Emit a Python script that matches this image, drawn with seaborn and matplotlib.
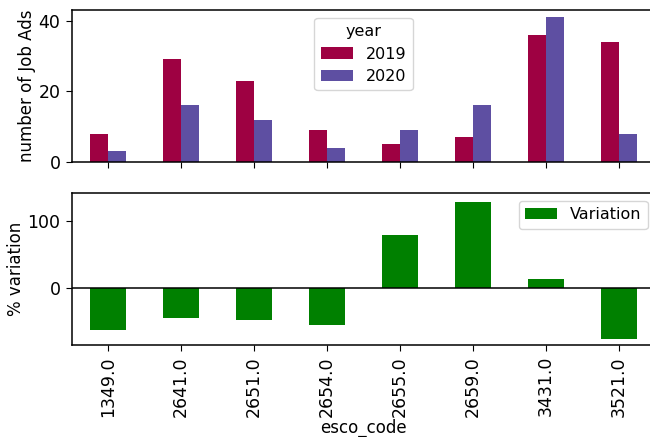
import matplotlib
matplotlib.use("Agg")
import matplotlib.pyplot as plt
import seaborn as sns
import pandas as pd

esco_codes = ["1349.0", "2641.0", "2651.0", "2654.0", "2655.0", "2659.0", "3431.0", "3521.0"]
ads_2019 = [8, 29, 23, 9, 5, 7, 36, 34]
ads_2020 = [3, 16, 12, 4, 9, 16, 41, 8]
variation = [-62.5, -44.8, -47.8, -55.6, 80.0, 128.6, 13.9, -76.5]
years = ["2019", "2020"]
colors = ["#9e0142", "#5e4fa2"]

plt.rcParams["font.size"] = 12.5
plt.rcParams["axes.linewidth"] = 1.1
plt.rcParams["xtick.major.size"] = 4.5
plt.rcParams["ytick.major.size"] = 4.5

df = pd.DataFrame({
    "esco_code": esco_codes * 2,
    "count": ads_2019 + ads_2020,
    "year": [years[0]] * len(esco_codes) + [years[1]] * len(esco_codes),
})
dfv = pd.DataFrame({"esco_code": esco_codes, "Variation": variation})

fig = plt.figure(figsize=(6.5, 4.37), dpi=100)
W, H = 650, 437
left, right = 71.5, 655.5
ax1 = fig.add_axes([left / W, 1 - 162 / H, (right - left) / W, (162 - 10) / H])
ax2 = fig.add_axes([left / W, 1 - 345 / H, (right - left) / W, (345 - 193) / H])

sns.barplot(data=df, x="esco_code", y="count", hue="year", palette=colors,
            width=0.5, errorbar=None, ax=ax1, saturation=1)
ax1.set_xlim(-0.5, len(esco_codes) - 0.5)
ax1.set_ylim(0, 43)
ax1.set_yticks([0, 20, 40])
ax1.set_ylabel("number of Job Ads", fontsize=12, labelpad=2)
ax1.set_xlabel("")
ax1.set_xticklabels([])
ax1.legend(title="year", loc="upper center", fontsize=11.5, title_fontsize=11.5,
           labelspacing=0.45)

sns.barplot(data=dfv, x="esco_code", y="Variation", color="green", width=0.5,
            errorbar=None, ax=ax2, saturation=1, label="Variation")
ax2.axhline(0, color="black", lw=1.1)
ax2.set_xlim(-0.5, len(esco_codes) - 0.5)
ax2.set_ylim(-85, 142)
ax2.set_yticks([0, 100])
ax2.set_ylabel("% variation", fontsize=12, labelpad=2)
ax2.set_xlabel("esco_code", fontsize=12, labelpad=1)
ax2.tick_params(axis="x", labelrotation=90)
ax2.legend(loc="upper right", fontsize=11.5)

fig.savefig("out.png", dpi=100)
